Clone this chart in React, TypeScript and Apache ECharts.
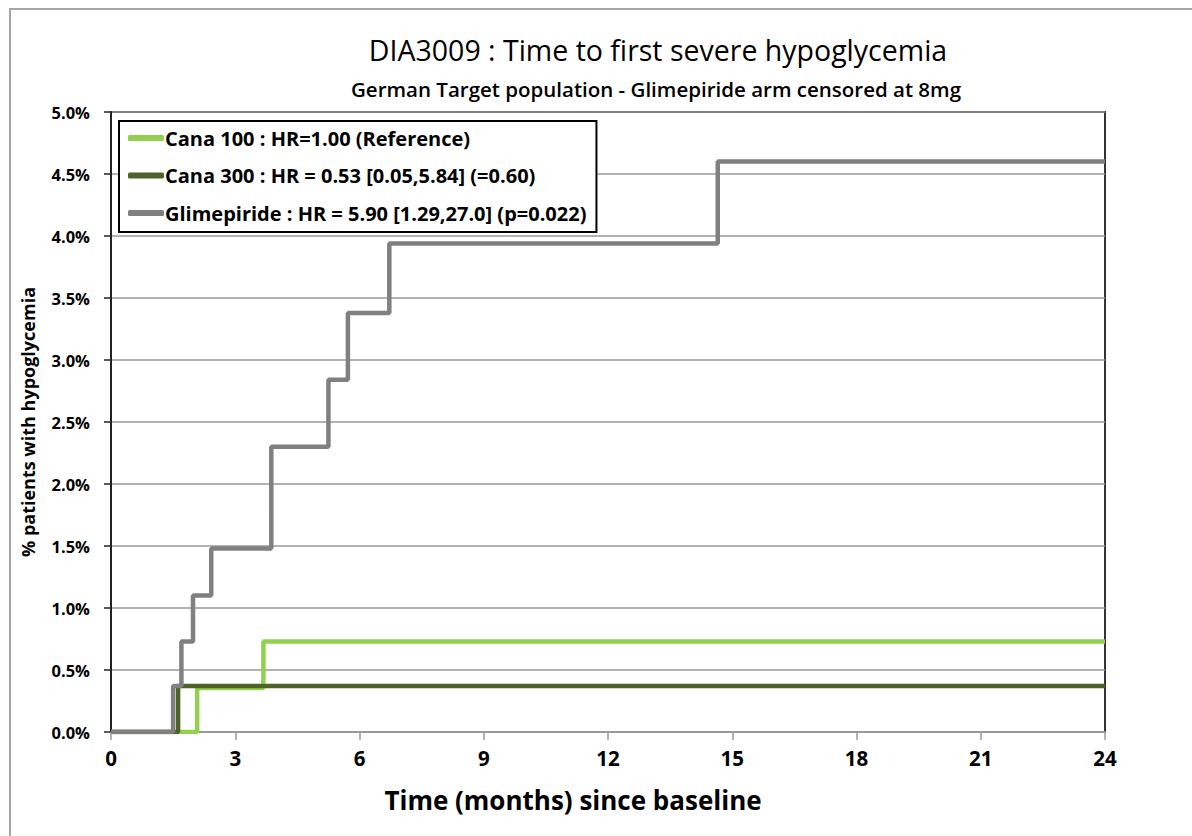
import React, { useEffect, useRef } from "react";
import * as echarts from "echarts";

const seriesNames = [
  "Cana 100 : HR=1.00 (Reference)",
  "Cana 300 : HR = 0.53 [0.05,5.84] (=0.60)",
  "Glimepiride : HR = 5.90 [1.29,27.0] (p=0.022)",
];
const cana100Months = [0, 2.08, 3.68, 24];
const cana100Pct = [0, 0.355, 0.73, 0.73];
const cana300Months = [0, 1.62, 24];
const cana300Pct = [0, 0.37, 0.37];
const glimMonths = [0, 1.5, 1.7, 1.98, 2.42, 3.87, 5.25, 5.72, 6.72, 14.65, 24];
const glimPct = [0, 0.37, 0.73, 1.1, 1.48, 2.3, 2.84, 3.38, 3.94, 4.6, 4.6];
const colors = ["#92d050", "#4f6228", "#808080"];

const FONT = "'Open Sans', Lato, sans-serif";

function pairs(xs: number[], ys: number[]) {
  return xs.map((x, i) => [x, ys[i]]);
}

export default function App() {
  const ref = useRef<HTMLDivElement>(null);
  useEffect(() => {
    if (!ref.current) return;
    const chart = echarts.init(ref.current, undefined, { renderer: "svg" });
    const datasets = [
      pairs(cana100Months, cana100Pct),
      pairs(cana300Months, cana300Pct),
      pairs(glimMonths, glimPct),
    ];
    chart.setOption({
      animation: false,
      backgroundColor: "#fff",
      title: [
        {
          text: "DIA3009 : Time to first severe hypoglycemia",
          left: 653,
          top: 30,
          textAlign: "center",
          textStyle: { fontFamily: FONT, fontSize: 28.5, fontWeight: "normal", color: "#000" },
        },
        {
          text: "German Target population - Glimepiride arm censored at 8mg",
          left: 651,
          top: 73,
          textAlign: "center",
          textStyle: { fontFamily: FONT, fontSize: 20.5, fontWeight: 600, color: "#000" },
        },
      ],
      graphic: [
        {
          type: "rect",
          shape: { x: 10, y: 9, width: 1200, height: 840 },
          style: { fill: "none", stroke: "#a6a6a6", lineWidth: 2 },
          silent: true,
          z: -10,
        },
      ],
      legend: {
        orient: "vertical",
        left: 119,
        top: 121,
        backgroundColor: "#fff",
        borderColor: "#000",
        borderWidth: 2,
        padding: [5, 10, 7, 9],
        itemGap: 13.5,
        itemWidth: 36,
        itemHeight: 6,
        icon: "roundRect",
        textStyle: { fontFamily: FONT, fontSize: 20, fontWeight: "bold", color: "#000", padding: [0, 0, 0, -4], lineHeight: 24 },
        data: seriesNames,
        z: 10,
      },
      grid: {
        left: 111,
        right: 87,
        top: 112,
        bottom: 104,
        show: true,
        borderColor: "#333",
        borderWidth: 2,
        backgroundColor: "transparent",
      },
      xAxis: {
        type: "value",
        min: 0,
        max: 24,
        interval: 3,
        name: "Time (months) since baseline",
        nameLocation: "middle",
        nameGap: 55,
        nameTextStyle: { fontFamily: FONT, fontSize: 26, fontWeight: "bold", color: "#000", padding: [0, 70, 0, 0] },
        axisLine: { show: true, lineStyle: { color: "#999", width: 2 } },
        axisTick: { show: true, length: 8, lineStyle: { color: "#999", width: 1.5 } },
        axisLabel: { fontFamily: FONT, fontSize: 20.5, fontWeight: "bold", color: "#000", margin: 15 },
        splitLine: { show: false },
      },
      yAxis: {
        type: "value",
        min: 0,
        max: 5,
        interval: 0.5,
        name: "% patients with hypoglycemia",
        nameLocation: "middle",
        nameGap: 74,
        nameRotate: 90,
        nameTextStyle: { fontFamily: FONT, fontSize: 18, fontWeight: "bold", color: "#000" },
        axisLine: { show: true, lineStyle: { color: "#222", width: 2 } },
        axisTick: { show: true, length: 7, lineStyle: { color: "#222", width: 1.5 } },
        axisLabel: {
          fontFamily: FONT,
          fontSize: 16.5,
          fontWeight: "bold",
          color: "#000",
          margin: 21,
          formatter: (v: number) => v.toFixed(1) + "%",
        },
        splitLine: { show: true, lineStyle: { color: "#999", width: 1.5 } },
      },
      series: seriesNames.map((name, i) => ({
        name,
        type: "line",
        step: "end",
        data: datasets[i],
        showSymbol: false,
        symbol: "none",
        color: colors[i],
        lineStyle: { color: colors[i], width: 4.5 },
        z: 3 + i,
      })),
    });
    return () => chart.dispose();
  }, []);
  return (
    <div
      ref={ref}
      style={{ position: "fixed", left: 0, top: 0, width: 1192, height: 836 }}
    />
  );
}
